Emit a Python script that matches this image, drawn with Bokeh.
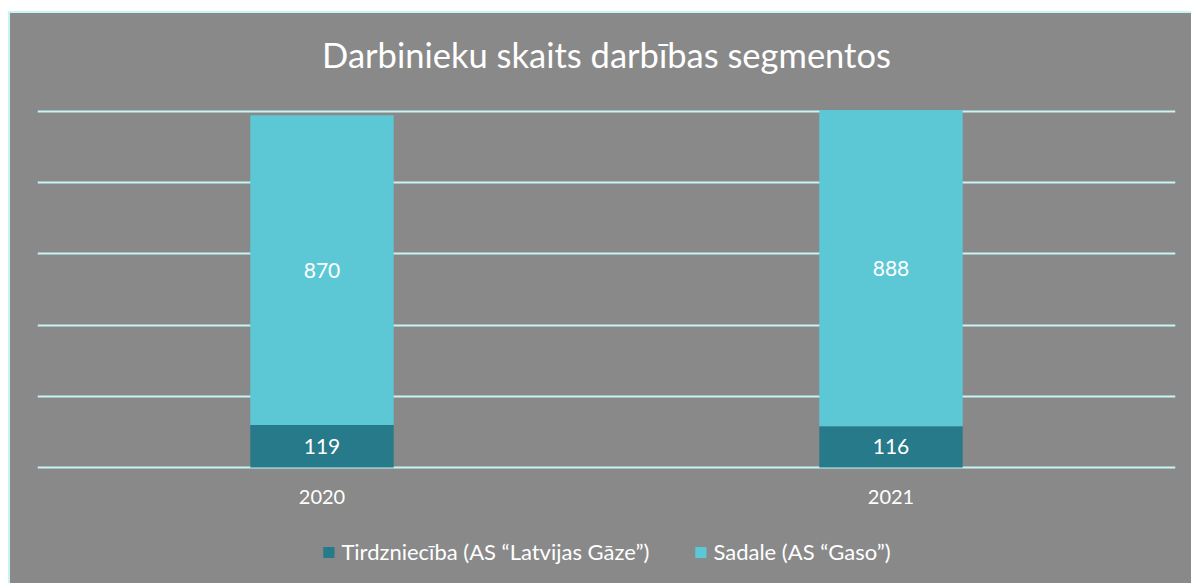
from bokeh.plotting import figure
from bokeh.models import FactorRange, Range1d, FixedTicker, Legend, LegendItem, ColumnDataSource, Label
from bokeh.core.properties import value
from bokeh.embed import file_html
from bokeh.resources import INLINE

years = ["2020", "2021"]
tirdznieciba = [119, 116]
sadale = [870, 888]
series_names = ["Tirdzniecība (AS “Latvijas Gāze”)", "Sadale (AS “Gaso”)"]
title_text = "Darbinieku skaits darbības segmentos"
grid_ticks = [0, 200, 400, 600, 800, 1000]

DARK = "#277A8A"
LIGHT = "#5DC8D5"
BG = "#898989"
GRID = "#C5F5F5"
FONT = "Lato"

p = figure(title=None, frame_width=1138, frame_height=570,
           x_range=FactorRange(*years), y_range=Range1d(-326, 1275),
           output_backend="svg", toolbar_location=None,
           min_border_left=27, min_border_right=16, min_border_top=0, min_border_bottom=0)
p.background_fill_color = BG
p.border_fill_color = None
p.outline_line_color = None
p.styles = {"margin-left": "8px", "margin-top": "11px", "background-color": BG,
            "border-top": "2px solid #C5F5F5", "border-left": "2px solid #C5F5F5"}

src = ColumnDataSource(dict(years=years, t=tirdznieciba, s=sadale))
rs = p.vbar_stack(["t", "s"], x="years", width=0.252, source=src,
                  color=[DARK, LIGHT], line_color=None)

# value labels
lab_src = ColumnDataSource(dict(
    x=years + years,
    y=[v / 2 for v in tirdznieciba] + [a + b / 2 for a, b in zip(tirdznieciba, sadale)],
    t=[str(v) for v in tirdznieciba] + [str(v) for v in sadale]))
p.text(x="x", y="y", text="t", source=lab_src, text_color="white", text_font=value(FONT),
       text_font_size="21px", text_align="center", text_baseline="middle")

# title (inside the frame area, above the grid)
p.add_layout(Label(x=1, y=1160, text=title_text, text_align="center", text_baseline="middle",
                   text_color="white", text_font=FONT, text_font_size="34.5px"))

# axes
p.yaxis.visible = False
p.xaxis.fixed_location = 0
p.xaxis.axis_line_color = None
p.xaxis.major_tick_line_color = None
p.xaxis.minor_tick_line_color = None
p.xaxis.major_label_text_color = "white"
p.xaxis.major_label_text_font = FONT
p.xaxis.major_label_text_font_size = "20px"
p.xaxis.major_label_standoff = 17

p.xgrid.grid_line_color = None
p.ygrid.ticker = FixedTicker(ticks=grid_ticks)
p.ygrid.grid_line_color = GRID
p.ygrid.grid_line_width = 2

legend = Legend(items=[LegendItem(label=series_names[0], renderers=[rs[0]]),
                       LegendItem(label=series_names[1], renderers=[rs[1]])],
                orientation="horizontal", location="bottom",
                background_fill_alpha=0, border_line_color=None,
                label_text_color="white", label_text_font=FONT, label_text_font_size="22px",
                glyph_width=14, glyph_height=14, spacing=44, label_standoff=6,
                margin=18, padding=6)
p.add_layout(legend, "center")

open("out.html", "w").write(file_html(p, INLINE))
